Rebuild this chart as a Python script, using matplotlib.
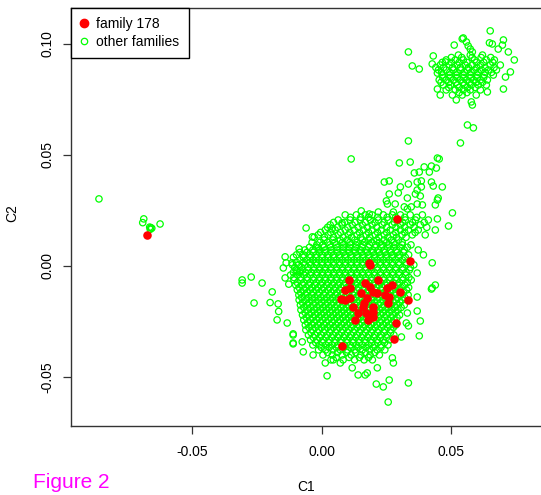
import numpy as np
import matplotlib
matplotlib.use('Agg')
import matplotlib.pyplot as plt
from matplotlib.lines import Line2D

plt.rcParams['font.family'] = ['Liberation Sans', 'DejaVu Sans']
plt.rcParams['axes.unicode_minus'] = False

# family 178 (red, filled)
fam_x = [0.0103, 0.0165, 0.0216, 0.0187, 0.0090, 0.0109, 0.0151, 0.0199, 0.0213, 0.0251,
         0.0271, 0.0245, 0.0261, 0.0303, 0.0075, 0.0090, 0.0109, 0.0174, 0.0164, 0.0257,
         0.0331, 0.0120, 0.0157, 0.0199, 0.0139, 0.0170, 0.0197, 0.0129, 0.0178, 0.0196,
         0.0286, 0.0279, 0.0077, 0.0180, 0.0187, 0.0339, 0.0290, -0.0676]
fam_y = [-0.0063, -0.0075, -0.0063, -0.0093, -0.0108, -0.0100, -0.0120, -0.0116, -0.0123, -0.0100,
         -0.0086, -0.0131, -0.0138, -0.0116, -0.0150, -0.0153, -0.0145, -0.0145, -0.0168, -0.0168,
         -0.0153, -0.0183, -0.0183, -0.0183, -0.0210, -0.0213, -0.0206, -0.0243, -0.0243, -0.0231,
         -0.0257, -0.0330, -0.0360, 0.0015, 0.0005, 0.0023, 0.0210, 0.0140]

# other families: isolated points on the left
left_x = [-0.0861, -0.0688, -0.0692, -0.0625, -0.0661, -0.0665, -0.0657, -0.0663]
left_y = [0.0302, 0.0212, 0.0195, 0.0189, 0.0172, 0.0175, 0.0170, 0.0165]

# other families: loose points of the upper-right cluster
top_x = [0.0334, 0.0349, 0.0376, 0.0430, 0.0426, 0.0511, 0.0546, 0.0558, 0.0565, 0.0573,
         0.0581, 0.0650, 0.0647, 0.0658, 0.0701, 0.0697, 0.0681, 0.0720, 0.0743, 0.0728,
         0.0709, 0.0701, 0.0639, 0.0581, 0.0577, 0.0519, 0.0457, 0.0446, 0.0446, 0.0477,
         0.0542]
top_y = [0.0964, 0.0901, 0.0887, 0.0946, 0.0910, 0.0995, 0.1027, 0.1009, 0.0991, 0.0977,
         0.0964, 0.1059, 0.1005, 0.1000, 0.1018, 0.0995, 0.0977, 0.0964, 0.0928, 0.0874,
         0.0851, 0.0797, 0.0784, 0.0725, 0.0739, 0.0748, 0.0770, 0.0797, 0.0869, 0.0919,
         0.1023]

# other families: sparse points around the main cluster
edge_x = [0.0562, 0.0585, 0.0535, 0.0334, 0.0113, 0.0299, 0.0341, 0.0446, 0.0453, 0.0395,
          0.0423, 0.0442, 0.0357, 0.0376, 0.0415, 0.0241, 0.0260, 0.0303, 0.0334, 0.0368,
          0.0384, 0.0423, 0.0430, 0.0465, 0.0384, 0.0368, 0.0361, 0.0260, 0.0295, 0.0330,
          0.0380, 0.0449, 0.0446, 0.0249, 0.0253, 0.0283, 0.0318, 0.0345, 0.0368, 0.0388,
          0.0438, 0.0504, 0.0152, 0.0183, 0.0218, 0.0276, 0.0330, 0.0446, 0.0489, 0.0078,
          0.0040, -0.0061, -0.0037, -0.0014, -0.0088, -0.0142, -0.0034, -0.0138, -0.0115, -0.0149,
          -0.0096, -0.0084, -0.0273, -0.0308, -0.0308, -0.0231, -0.0192, -0.0262, -0.0169, -0.0173,
          -0.0134, -0.0111, -0.0111, -0.0076, -0.0142, -0.0111, -0.0200, -0.0128, -0.0167,
          0.0368, 0.0426, 0.0438, 0.0423, 0.0368, 0.0368, 0.0330, 0.0380, 0.0326, 0.0334,
          0.0376, 0.0307, 0.0426, 0.0392, 0.0372,
          0.0020, 0.0210, 0.0237, 0.0260, 0.0334, 0.0256, 0.0140, 0.0167, 0.0175, 0.0117,
          0.0214, 0.0276, 0.0272, -0.0072, -0.0034, 0.0013, 0.0044, 0.0071, -0.0111]
edge_y = [0.0635, 0.0622, 0.0554, 0.0563, 0.0482, 0.0464, 0.0468, 0.0486, 0.0482, 0.0446,
          0.0450, 0.0441, 0.0419, 0.0423, 0.0423, 0.0378, 0.0383, 0.0356, 0.0369, 0.0378,
          0.0383, 0.0378, 0.0360, 0.0356, 0.0356, 0.0342, 0.0324, 0.0324, 0.0329, 0.0306,
          0.0315, 0.0306, 0.0297, 0.0293, 0.0279, 0.0279, 0.0266, 0.0266, 0.0279, 0.0275,
          0.0275, 0.0239, 0.0248, 0.0234, 0.0243, 0.0243, 0.0257, 0.0212, 0.0180, 0.0194,
          0.0167, 0.0171, 0.0131, 0.0081, 0.0077, 0.0041, 0.0027, 0.0014, 0.0014, -0.0009,
          -0.0023, -0.0023, -0.0050, -0.0063, -0.0077, -0.0077, -0.0117, -0.0167, -0.0171, -0.0243,
          -0.0257, -0.0306, -0.0347, -0.0342, -0.0054, -0.0311, -0.0165, -0.0082, -0.0205,
          -0.0032, -0.0099, -0.0086, -0.0104, -0.0140, -0.0203, -0.0212, -0.0248, -0.0257, -0.0270,
          -0.0315, -0.0320, 0.0014, 0.0050, 0.0072,
          -0.0495, -0.0532, -0.0545, -0.0514, -0.0527, -0.0613, -0.0491, -0.0491, -0.0482, -0.0459,
          -0.0459, -0.0437, -0.0414, -0.0387, -0.0401, -0.0437, -0.0423, -0.0437, -0.0351]

# other families: dense parts, read row by row (row y, x positions along it)
dense_row_y = [0.0950, 0.0928, 0.0905, 0.0883, 0.0860, 0.0838, 0.0815, 0.0793, 0.0770,
               0.0230, 0.0207, 0.0185, 0.0162, 0.0140,
               0.0117, 0.0095, 0.0072, 0.0050, 0.0027, 0.0005, -0.0018, -0.0041, -0.0063,
               -0.0086, -0.0108, -0.0131, -0.0153, -0.0176, -0.0198, -0.0221, -0.0243,
               -0.0266, -0.0288, -0.0311, -0.0333, -0.0356, -0.0378, -0.0401, -0.0423]
dense_row_x = [
    [0.0527, 0.0573, 0.0620],
    [0.0480, 0.0515, 0.0546, 0.0589, 0.0635, 0.0666],
    [0.0457, 0.0492, 0.0523, 0.0554, 0.0581, 0.0612, 0.0650, 0.0689],
    [0.0450, 0.0480, 0.0508, 0.0535, 0.0562, 0.0589, 0.0616, 0.0643, 0.0674],
    [0.0465, 0.0492, 0.0519, 0.0546, 0.0573, 0.0600, 0.0627, 0.0662],
    [0.0453, 0.0480, 0.0508, 0.0535, 0.0558, 0.0585, 0.0612, 0.0639],
    [0.0469, 0.0496, 0.0523, 0.0550, 0.0577, 0.0604, 0.0635],
    [0.0480, 0.0515, 0.0546, 0.0573, 0.0612],
    [0.0504, 0.0542, 0.0596],
    [0.0090, 0.0133, 0.0167, 0.0194, 0.0237, 0.0272, 0.0303, 0.0341, 0.0388],
    [0.0063, 0.0109, 0.0148, 0.0187, 0.0218, 0.0256, 0.0295, 0.0322, 0.0361, 0.0411],
    [0.0032, 0.0078, 0.0117, 0.0156, 0.0194, 0.0233, 0.0272, 0.0303, 0.0341, 0.0380],
    [0.0013, 0.0051, 0.0090, 0.0125, 0.0160, 0.0194, 0.0229, 0.0264, 0.0303, 0.0334, 0.0372, 0.0438],
    [-0.0014, 0.0024, 0.0063, 0.0102, 0.0136, 0.0171, 0.0206, 0.0241, 0.0276, 0.0310, 0.0349, 0.0399],
    [0.0008, 0.0042, 0.0071, 0.0098, 0.0127, 0.0155, 0.0181, 0.0212, 0.0240, 0.0268, 0.0296],
    [-0.0020, 0.0004, 0.0031, 0.0055, 0.0082, 0.0109, 0.0131, 0.0158, 0.0184, 0.0207, 0.0233, 0.0259, 0.0282, 0.0310, 0.0344],
    [-0.0066, -0.0035, -0.0010, 0.0014, 0.0036, 0.0059, 0.0083, 0.0104, 0.0127, 0.0149, 0.0172, 0.0196, 0.0218, 0.0241, 0.0265, 0.0288, 0.0318],
    [-0.0098, -0.0071, -0.0045, -0.0022, 0.0001, 0.0023, 0.0045, 0.0067, 0.0090, 0.0112, 0.0136, 0.0158, 0.0180, 0.0203, 0.0226, 0.0249, 0.0272, 0.0299, 0.0335],
    [-0.0084, -0.0058, -0.0034, -0.0011, 0.0012, 0.0034, 0.0056, 0.0079, 0.0101, 0.0124, 0.0147, 0.0169, 0.0192, 0.0214, 0.0237, 0.0260, 0.0284, 0.0311],
    [-0.0114, -0.0090, -0.0066, -0.0043, -0.0021, 0.0001, 0.0023, 0.0046, 0.0068, 0.0090, 0.0113, 0.0135, 0.0157, 0.0180, 0.0203, 0.0226, 0.0249, 0.0273, 0.0298, 0.0326, 0.0355],
    [-0.0100, -0.0076, -0.0053, -0.0031, -0.0009, 0.0012, 0.0035, 0.0057, 0.0079, 0.0101, 0.0124, 0.0146, 0.0169, 0.0191, 0.0214, 0.0238, 0.0261, 0.0285, 0.0311, 0.0338],
    [-0.0121, -0.0094, -0.0069, -0.0044, -0.0020, 0.0002, 0.0024, 0.0046, 0.0068, 0.0090, 0.0113, 0.0135, 0.0158, 0.0181, 0.0203, 0.0226, 0.0250, 0.0274, 0.0298, 0.0324],
    [-0.0108, -0.0082, -0.0057, -0.0033, -0.0010, 0.0013, 0.0035, 0.0057, 0.0080, 0.0102, 0.0125, 0.0147, 0.0170, 0.0193, 0.0216, 0.0239, 0.0262, 0.0287, 0.0313, 0.0345],
    [-0.0101, -0.0075, -0.0050, -0.0027, -0.0004, 0.0018, 0.0041, 0.0063, 0.0085, 0.0108, 0.0130, 0.0153, 0.0175, 0.0198, 0.0221, 0.0244, 0.0268, 0.0293, 0.0320],
    [-0.0095, -0.0070, -0.0046, -0.0022, 0.0001, 0.0024, 0.0046, 0.0069, 0.0091, 0.0113, 0.0136, 0.0158, 0.0181, 0.0204, 0.0227, 0.0251, 0.0275, 0.0300, 0.0327],
    [-0.0089, -0.0063, -0.0039, -0.0016, 0.0007, 0.0030, 0.0052, 0.0074, 0.0097, 0.0119, 0.0142, 0.0164, 0.0187, 0.0210, 0.0233, 0.0256, 0.0280, 0.0305, 0.0333],
    [-0.0088, -0.0062, -0.0037, -0.0013, 0.0010, 0.0033, 0.0055, 0.0078, 0.0100, 0.0123, 0.0145, 0.0168, 0.0191, 0.0214, 0.0237, 0.0261, 0.0285, 0.0310],
    [-0.0083, -0.0057, -0.0033, -0.0009, 0.0014, 0.0037, 0.0059, 0.0082, 0.0104, 0.0127, 0.0149, 0.0172, 0.0195, 0.0218, 0.0241, 0.0265, 0.0290, 0.0318],
    [-0.0081, -0.0055, -0.0030, -0.0006, 0.0017, 0.0040, 0.0063, 0.0085, 0.0108, 0.0131, 0.0153, 0.0176, 0.0199, 0.0222, 0.0245, 0.0269, 0.0294],
    [-0.0075, -0.0050, -0.0026, -0.0002, 0.0021, 0.0044, 0.0066, 0.0089, 0.0112, 0.0134, 0.0157, 0.0180, 0.0203, 0.0226, 0.0249, 0.0273, 0.0300],
    [-0.0070, -0.0045, -0.0021, 0.0002, 0.0025, 0.0048, 0.0070, 0.0093, 0.0115, 0.0138, 0.0161, 0.0184, 0.0207, 0.0230, 0.0254, 0.0279],
    [-0.0064, -0.0039, -0.0015, 0.0008, 0.0031, 0.0053, 0.0076, 0.0098, 0.0121, 0.0144, 0.0167, 0.0190, 0.0213, 0.0236, 0.0260, 0.0285],
    [-0.0062, -0.0036, -0.0012, 0.0011, 0.0034, 0.0057, 0.0080, 0.0103, 0.0126, 0.0149, 0.0172, 0.0195, 0.0218, 0.0242, 0.0266],
    [-0.0052, -0.0027, -0.0003, 0.0020, 0.0043, 0.0066, 0.0089, 0.0112, 0.0135, 0.0158, 0.0181, 0.0204, 0.0228, 0.0253, 0.0278],
    [-0.0044, -0.0019, 0.0005, 0.0028, 0.0051, 0.0074, 0.0097, 0.0120, 0.0143, 0.0166, 0.0189, 0.0213, 0.0237, 0.0262],
    [-0.0035, -0.0009, 0.0015, 0.0039, 0.0062, 0.0086, 0.0109, 0.0133, 0.0156, 0.0180, 0.0204, 0.0229, 0.0255],
    [-0.0013, 0.0015, 0.0043, 0.0071, 0.0099, 0.0127, 0.0156, 0.0184, 0.0213, 0.0243],
    [0.0004, 0.0040, 0.0078, 0.0113, 0.0150, 0.0186, 0.0222],
    [0.0035, 0.0082, 0.0126, 0.0163, 0.0195],
]

# rows lying between the rows above
mid_row_y = [0.0939, 0.0917, 0.0894, 0.0872, 0.0849, 0.0827, 0.0804, 0.0781,
             0.0219, 0.0196, 0.0174, 0.0151, 0.0129,
             0.0106, 0.0084, 0.0061, 0.0039, 0.0016, -0.0007, -0.0029, -0.0052, -0.0075,
             -0.0097, -0.0120, -0.0142, -0.0165, -0.0187, -0.0210, -0.0232, -0.0255,
             -0.0277, -0.0300, -0.0322, -0.0345, -0.0367, -0.0390, -0.0412]
mid_row_x = [
    [0.0500, 0.0540, 0.0580, 0.0615, 0.0652],
    [0.0465, 0.0500, 0.0530, 0.0560, 0.0597, 0.0625, 0.0660],
    [0.0440, 0.0470, 0.0505, 0.0535, 0.0566, 0.0598, 0.0630, 0.0665],
    [0.0462, 0.0494, 0.0522, 0.0550, 0.0576, 0.0603, 0.0630, 0.0655],
    [0.0467, 0.0495, 0.0522, 0.0548, 0.0575, 0.0600, 0.0625],
    [0.0460, 0.0490, 0.0518, 0.0545, 0.0570, 0.0595, 0.0620],
    [0.0490, 0.0530, 0.0562, 0.0592],
    [0.0530, 0.0560],
    [0.0110, 0.0150, 0.0180, 0.0215, 0.0252, 0.0285, 0.0320, 0.0366],
    [0.0045, 0.0088, 0.0128, 0.0168, 0.0205, 0.0240, 0.0280, 0.0312, 0.0350, 0.0395],
    [0.0022, 0.0060, 0.0100, 0.0140, 0.0176, 0.0212, 0.0250, 0.0286, 0.0320, 0.0356, 0.0405],
    [-0.0005, 0.0034, 0.0072, 0.0108, 0.0145, 0.0180, 0.0215, 0.0250, 0.0285, 0.0320, 0.0360],
    [-0.0030, 0.0010, 0.0045, 0.0082, 0.0115, 0.0150, 0.0185, 0.0220, 0.0255, 0.0288, 0.0325],
    [-0.0038, -0.0008, 0.0022, 0.0050, 0.0079, 0.0108, 0.0136, 0.0165, 0.0193, 0.0222, 0.0250, 0.0278, 0.0310],
    [-0.0048, -0.0020, 0.0008, 0.0033, 0.0058, 0.0083, 0.0107, 0.0131, 0.0156, 0.0180, 0.0205, 0.0229, 0.0254, 0.0278, 0.0302, 0.0330],
    [-0.0085, -0.0058, -0.0033, -0.0010, 0.0013, 0.0036, 0.0060, 0.0083, 0.0106, 0.0129, 0.0152, 0.0175, 0.0198, 0.0221, 0.0244, 0.0267, 0.0290, 0.0315],
    [-0.0110, -0.0072, -0.0046, -0.0022, 0.0001, 0.0024, 0.0046, 0.0068, 0.0091, 0.0113, 0.0136, 0.0158, 0.0181, 0.0203, 0.0226, 0.0249, 0.0272, 0.0296, 0.0322],
    [-0.0098, -0.0071, -0.0046, -0.0022, 0.0000, 0.0023, 0.0045, 0.0068, 0.0090, 0.0113, 0.0135, 0.0158, 0.0180, 0.0203, 0.0225, 0.0249, 0.0272, 0.0297, 0.0325],
    [-0.0105, -0.0078, -0.0054, -0.0031, -0.0009, 0.0013, 0.0035, 0.0057, 0.0079, 0.0102, 0.0124, 0.0146, 0.0169, 0.0191, 0.0214, 0.0237, 0.0261, 0.0286, 0.0312, 0.0342],
    [-0.0110, -0.0086, -0.0063, -0.0041, -0.0019, 0.0002, 0.0024, 0.0046, 0.0068, 0.0090, 0.0113, 0.0135, 0.0157, 0.0180, 0.0203, 0.0226, 0.0250, 0.0273, 0.0298, 0.0325],
    [-0.0108, -0.0082, -0.0057, -0.0032, -0.0009, 0.0013, 0.0035, 0.0057, 0.0079, 0.0101, 0.0124, 0.0147, 0.0169, 0.0192, 0.0215, 0.0238, 0.0262, 0.0286, 0.0311, 0.0336],
    [-0.0095, -0.0070, -0.0045, -0.0022, 0.0001, 0.0024, 0.0046, 0.0068, 0.0091, 0.0113, 0.0136, 0.0158, 0.0181, 0.0204, 0.0227, 0.0251, 0.0275, 0.0300, 0.0330],
    [-0.0088, -0.0062, -0.0038, -0.0015, 0.0007, 0.0030, 0.0052, 0.0074, 0.0097, 0.0119, 0.0141, 0.0164, 0.0187, 0.0210, 0.0233, 0.0257, 0.0281, 0.0306, 0.0335],
    [-0.0082, -0.0057, -0.0033, -0.0010, 0.0013, 0.0036, 0.0058, 0.0080, 0.0103, 0.0125, 0.0148, 0.0170, 0.0193, 0.0216, 0.0239, 0.0263, 0.0287, 0.0315],
    [-0.0078, -0.0052, -0.0028, -0.0004, 0.0019, 0.0041, 0.0064, 0.0086, 0.0108, 0.0131, 0.0153, 0.0176, 0.0199, 0.0222, 0.0245, 0.0269, 0.0294, 0.0320],
    [-0.0075, -0.0049, -0.0025, -0.0001, 0.0022, 0.0045, 0.0067, 0.0090, 0.0112, 0.0135, 0.0157, 0.0180, 0.0203, 0.0226, 0.0250, 0.0275, 0.0301],
    [-0.0070, -0.0044, -0.0020, 0.0004, 0.0027, 0.0050, 0.0073, 0.0095, 0.0118, 0.0141, 0.0163, 0.0186, 0.0209, 0.0233, 0.0257, 0.0282, 0.0306],
    [-0.0065, -0.0040, -0.0016, 0.0008, 0.0031, 0.0054, 0.0076, 0.0099, 0.0121, 0.0144, 0.0167, 0.0190, 0.0213, 0.0236, 0.0260, 0.0285],
    [-0.0060, -0.0035, -0.0011, 0.0012, 0.0035, 0.0058, 0.0081, 0.0103, 0.0126, 0.0149, 0.0172, 0.0195, 0.0218, 0.0242, 0.0266, 0.0290],
    [-0.0055, -0.0030, -0.0006, 0.0017, 0.0040, 0.0063, 0.0086, 0.0108, 0.0131, 0.0154, 0.0177, 0.0200, 0.0224, 0.0248, 0.0272],
    [-0.0050, -0.0025, -0.0001, 0.0022, 0.0045, 0.0068, 0.0091, 0.0114, 0.0137, 0.0160, 0.0183, 0.0206, 0.0230, 0.0254, 0.0276],
    [-0.0042, -0.0017, 0.0007, 0.0030, 0.0053, 0.0076, 0.0099, 0.0122, 0.0145, 0.0168, 0.0191, 0.0215, 0.0240, 0.0265],
    [-0.0033, -0.0008, 0.0016, 0.0039, 0.0062, 0.0085, 0.0108, 0.0131, 0.0154, 0.0177, 0.0201, 0.0225, 0.0250],
    [-0.0024, 0.0002, 0.0026, 0.0050, 0.0073, 0.0097, 0.0120, 0.0144, 0.0168, 0.0192, 0.0216, 0.0242],
    [-0.0002, 0.0028, 0.0056, 0.0084, 0.0112, 0.0140, 0.0170, 0.0198, 0.0228],
    [0.0022, 0.0060, 0.0095, 0.0131, 0.0168, 0.0204],
    [0.0055, 0.0105, 0.0145, 0.0180],
]

# gather green points
row_y = dense_row_y + mid_row_y
row_x = dense_row_x + mid_row_x
dense_x = [x for row in row_x for x in row]
dense_y = [y for y, row in zip(row_y, row_x) for _ in row]
oth_x = np.array(left_x + top_x + edge_x + dense_x)
oth_y = np.array(left_y + top_y + edge_y + dense_y)

fig = plt.figure(figsize=(5.41, 4.95), dpi=100)
ax = fig.add_axes([71 / 541, 69 / 495, 471 / 541, 418 / 495])

ax.scatter(oth_x, oth_y, s=21, facecolors='none', edgecolors='#00ff00', linewidths=0.9)
ax.scatter(fam_x, fam_y, s=38, color='#ff0000', linewidths=0)

ax.set_xlim(-0.0969, 0.0850)
ax.set_ylim(-0.0721, 0.1162)
ax.set_xticks([-0.05, 0.0, 0.05])
ax.set_xticklabels(['-0.05', '0.00', '0.05'])
ax.set_yticks([-0.05, 0.0, 0.05, 0.10])
ax.set_yticklabels(['-0.05', '0.00', '0.05', '0.10'], rotation=90, va='center')
ax.tick_params(axis='both', length=6, width=0.9, labelsize=10, color='#333333')
ax.tick_params(axis='x', pad=8)
ax.tick_params(axis='y', pad=6)
for sp in ax.spines.values():
    sp.set_linewidth(1.0)
    sp.set_color('#333333')
ax.spines['right'].set_visible(False)

handles = [Line2D([], [], marker='o', ls='', color='#ff0000', ms=6),
           Line2D([], [], marker='o', ls='', mfc='none', mec='#00ff00', ms=4.6, mew=0.9)]
leg = ax.legend(handles, ['family 178', 'other families'], loc='upper left',
                bbox_to_anchor=(0, 1), borderaxespad=0, fontsize=10, fancybox=False,
                edgecolor='black', framealpha=1, handlelength=0.5, handletextpad=0.68,
                borderpad=0.65, labelspacing=0.3)
leg.get_frame().set_linewidth(1.0)

fig.text(306 / 541, 1 - 487 / 495, 'C1', ha='center', va='center', fontsize=10)
fig.text(12 / 541, 1 - 213 / 495, 'C2', ha='center', va='center', fontsize=10, rotation=90)
fig.text(33 / 541, 1 - 482 / 495, 'Figure 2', ha='left', va='center', fontsize=15, color='#ff00ff')

fig.savefig('out.png', dpi=100)
